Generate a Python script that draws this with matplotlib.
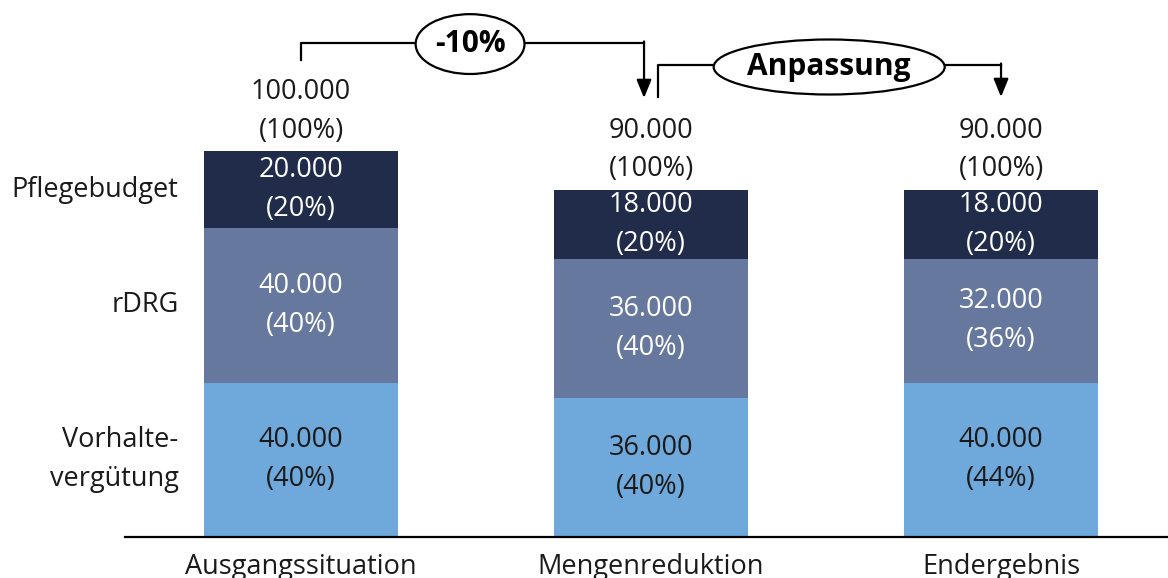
import numpy as np
import matplotlib.pyplot as plt
from matplotlib.patches import Ellipse

plt.rcParams['font.family'] = ['Open Sans', 'DejaVu Sans']

# Data
categories = ['Ausgangssituation', 'Mengenreduktion', 'Endergebnis']
segments = ['Vorhalte-\nvergütung', 'rDRG', 'Pflegebudget']
vorhalte = [40000, 36000, 40000]
rdrg = [40000, 36000, 32000]
pflege = [20000, 18000, 18000]
vorhalte_pct = [40, 40, 44]
rdrg_pct = [40, 40, 36]
pflege_pct = [20, 20, 20]
totals = [100000, 90000, 90000]
total_pct = [100, 100, 100]

colors = ['#6fa8db', '#67789f', '#202c4a']
text_colors = ['#1a1a1a', 'white', 'white']

def fmt(v):
    return f'{v:,}'.replace(',', '.')

fig = plt.figure(figsize=(11.68, 5.78), dpi=100)
ax = fig.add_axes([0, 0, 1, 1])
ax.set_xlim(-0.86, 2.477)
ax.set_ylim(-10622, 139119)
ax.axis('off')

x = np.arange(len(categories))
width = 0.554
fs = 19.5
ls = 1.52

series = [vorhalte, rdrg, pflege]
pcts = [vorhalte_pct, rdrg_pct, pflege_pct]
bottom = np.zeros(len(categories))
for vals, pc, col, tc in zip(series, pcts, colors, text_colors):
    vals = np.array(vals)
    ax.bar(x, vals, width, bottom=bottom, color=col, zorder=2)
    for xi, b, v, p in zip(x, bottom, vals, pc):
        ax.text(xi, b + v / 2, f'{fmt(int(v))}\n({p}%)', ha='center', va='center',
                color=tc, fontsize=fs, linespacing=ls, zorder=4,
                bbox=dict(boxstyle='square,pad=0.05', fc=col, ec='none'))
    bottom += vals

# totals above bars
for xi, t, p in zip(x, totals, total_pct):
    ax.text(xi, t + 1600, f'{fmt(t)}\n({p}%)', ha='center', va='bottom',
            fontsize=fs, linespacing=ls, color='#1a1a1a', zorder=3,
            bbox=dict(boxstyle='square,pad=0.03', fc='white', ec='none'))

# segment names on the left
seg_y = [vorhalte[0] / 2, vorhalte[0] + rdrg[0] / 2,
         vorhalte[0] + rdrg[0] + pflege[0] / 2]
for name, yy in zip(segments, seg_y):
    ax.text(-0.35, yy, name, ha='right', va='center', fontsize=fs,
            linespacing=ls, color='#1a1a1a')

# baseline and category labels
ax.plot([-0.503, 2.477], [0, 0], color='black', lw=1.6, zorder=5, clip_on=False)
for xi, c in zip(x, categories):
    ax.text(xi, -4100, c, ha='center', va='top', fontsize=fs, color='#1a1a1a')

# bracket arrows with labelled ellipses
def bracket(x0, y0, x1, y1, ytop, label, ecx, ecy, ew, eh):
    ax.plot([x0, x0, x1], [y0, ytop, ytop], color='black', lw=1.6, zorder=5)
    ax.annotate('', xy=(x1, y1), xytext=(x1, ytop + 400),
                arrowprops=dict(arrowstyle='-|>,head_length=1.1,head_width=0.45',
                                color='black', lw=1.6, shrinkA=0, shrinkB=0))
    ax.add_patch(Ellipse((ecx, ecy), ew, eh, fc='white', ec='black', lw=1.6, zorder=6))
    ax.text(ecx, ecy, label, ha='center', va='center', fontsize=21.5,
            fontweight='bold', zorder=7)

bracket(0, 123575, 0.98, 113730, 127979, '-10%', 0.483, 127700, 0.311, 15500)
bracket(1.02, 113990, 2.0, 113990, 122280, 'Anpassung', 1.509, 121762, 0.66, 14250)

fig.savefig('out.png', dpi=100)
